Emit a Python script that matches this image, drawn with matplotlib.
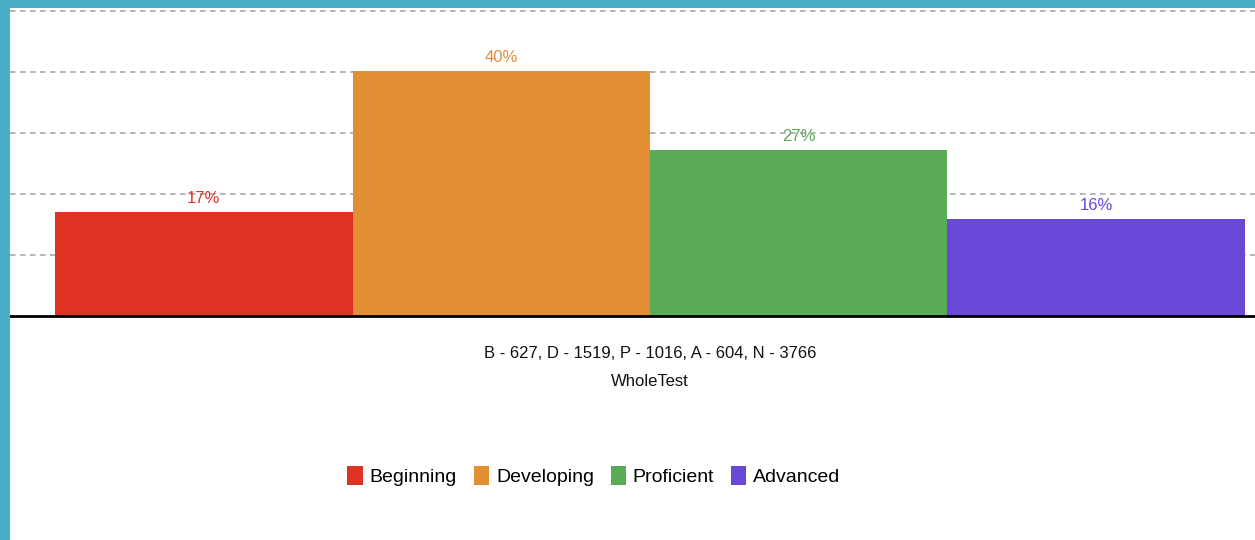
import matplotlib
matplotlib.use("Agg")
import matplotlib.pyplot as plt
from matplotlib.patches import Rectangle
from matplotlib.transforms import blended_transform_factory

# data
levels = ["Beginning", "Developing", "Proficient", "Advanced"]
percents = [17.0, 40.2, 27.2, 15.8]
counts_caption = "B - 627, D - 1519, P - 1016, A - 604, N - 3766"
test_name = "WholeTest"
colors = ["#DE3224", "#E28E35", "#5AAB55", "#6A48D7"]

plt.rcParams["font.family"] = ["Liberation Sans Narrow", "Liberation Sans", "DejaVu Sans"]
plt.rcParams["lines.scale_dashes"] = False

W, H = 1255, 540
fig = plt.figure(figsize=(W / 100, H / 100), dpi=100)

# blue frame on the left and top edges
border = "#4AADC6"
fig.patches.append(Rectangle((0, 0), 10 / W, 1, transform=fig.transFigure,
                             facecolor=border, edgecolor="none", zorder=0))
fig.patches.append(Rectangle((0, 1 - 8 / H), 1, 8 / H, transform=fig.transFigure,
                             facecolor=border, edgecolor="none", zorder=0))

base_y = 315.5
ax = fig.add_axes([10 / W, (H - base_y) / H, 1 - 10 / W, (base_y - 8) / H])

x = list(range(len(levels)))
bars = ax.bar(x, percents, width=1.0, color=colors, zorder=2)

ax.set_xlim(-0.5 - 45 / 297.5, 3.5 + 10 / 297.5)
ax.set_ylim(0, (base_y - 8) / 6.09)
ax.set_yticks([10, 20, 30, 40, 50])
ax.yaxis.grid(True, color="#A9A9A9", linewidth=1.2, linestyle=(0, (4.0, 3.2)), zorder=1)
ax.set_axisbelow(True)
ax.set_xticks([])
ax.tick_params(axis="y", length=0, labelleft=False)
for side in ["top", "right", "left"]:
    ax.spines[side].set_visible(False)
ax.spines["bottom"].set_color("black")
ax.spines["bottom"].set_linewidth(2.0)
ax.spines["bottom"].set_zorder(3)

# value labels above bars
for xi, p, c in zip(x, percents, colors):
    ax.annotate(f"{round(p)}%", (xi, p), xytext=(0, 6.5), textcoords="offset points",
                ha="center", va="baseline", color=c, fontsize=12, zorder=4)

# caption under the axis
tr = blended_transform_factory(ax.transData, fig.transFigure)
ax.text(1.5, 1 - 353 / H, counts_caption, transform=tr, ha="center", va="center",
        fontsize=12, color="#111111")
ax.text(1.5, 1 - 381 / H, test_name, transform=tr, ha="center", va="center",
        fontsize=12, color="#111111")

# legend
handles = [Rectangle((0, 0), 1, 1, facecolor=c, edgecolor="none") for c in colors]
fig.legend(handles, levels, loc="center", bbox_to_anchor=(594 / W, 1 - 476 / H),
           ncol=4, frameon=False, fontsize=14, handlelength=0.8, handleheight=1.1,
           handletextpad=0.35, columnspacing=0.85)

fig.savefig("out.png", dpi=100, facecolor="white")
